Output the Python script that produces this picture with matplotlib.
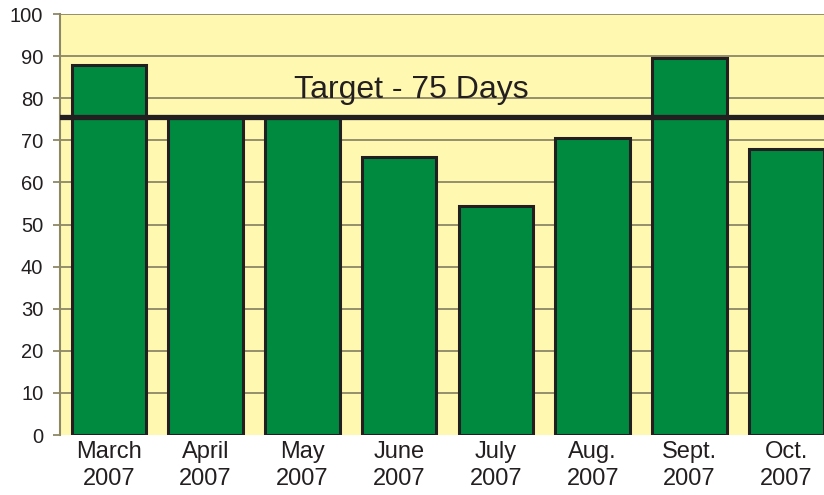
import matplotlib
matplotlib.use("Agg")
import matplotlib.pyplot as plt

categories = ["March\n2007", "April\n2007", "May\n2007", "June\n2007",
              "July\n2007", "Aug.\n2007", "Sept.\n2007", "Oct.\n2007"]
values = [88, 75.5, 75.5, 66, 54.5, 70.5, 89.5, 68]
target = 75.5
target_label = "Target - 75 Days"
yticks = [0, 10, 20, 30, 40, 50, 60, 70, 80, 90, 100]

plt.rcParams['font.family'] = ['Liberation Sans', 'DejaVu Sans']

fig = plt.figure(figsize=(8.24, 4.95), dpi=100)
ax = fig.add_axes([0.0728, 0.1212, 0.9272, 0.8505])
ax.set_facecolor('#FFF8B0')

grid_c = '#8C8866'
for y in yticks[1:]:
    ax.axhline(y, color=grid_c, lw=1.3, zorder=1)

x = list(range(len(categories)))
ax.bar(x, values, width=0.77, color='#008A40', edgecolor='#231F20',
       linewidth=2.2, zorder=2)
ax.axhline(target, color='#231F20', lw=3.8, zorder=3)
ax.text(3.13, 82.0, target_label, fontsize=23, ha='center', va='center',
        color='#231F20', zorder=4)

ax.set_xlim(-0.505, 7.39)
ax.set_ylim(0, 100)
ax.set_yticks(yticks)
ax.set_yticklabels([str(v) for v in yticks], fontsize=14.5, color='#231F20')
ax.set_xticks(x)
ax.set_xticklabels(categories, fontsize=17, color='#231F20', linespacing=1.3)
ax.tick_params(axis='y', length=5, width=1.3, color=grid_c, pad=7)
ax.tick_params(axis='x', length=0, pad=4)
for s in ['top', 'right', 'bottom']:
    ax.spines[s].set_visible(False)
ax.spines['left'].set_color(grid_c)
ax.spines['left'].set_linewidth(1.5)

fig.savefig('out.png', dpi=100, facecolor='white')
